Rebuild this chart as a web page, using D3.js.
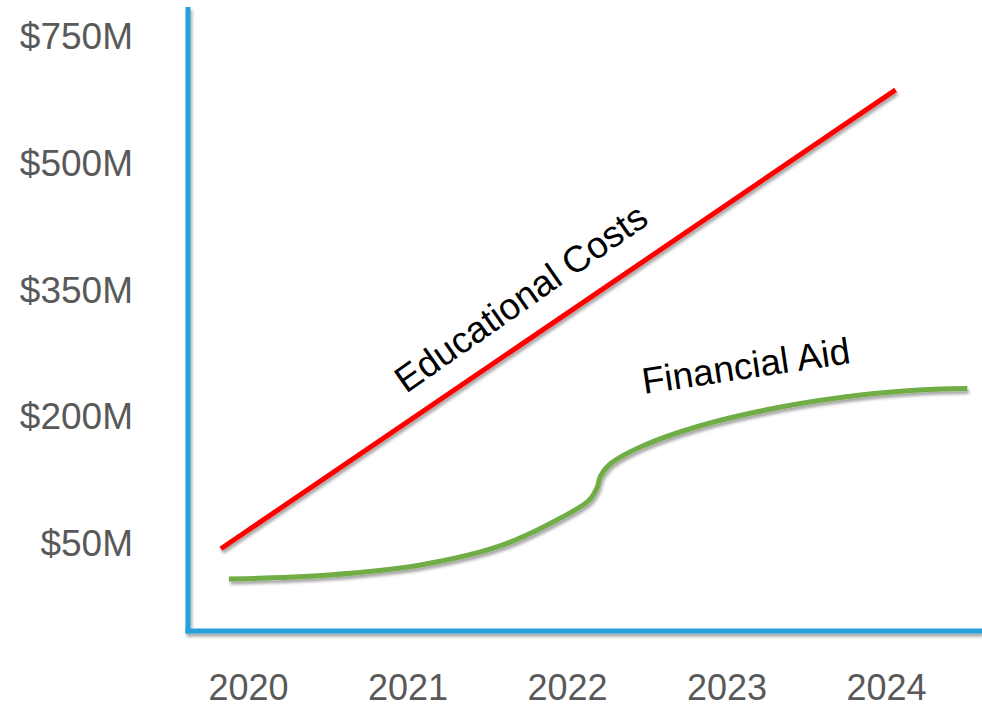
<!DOCTYPE html>
<html>
<head>
<meta charset="utf-8">
<script src="https://cdn.jsdelivr.net/npm/d3@7"></script>
<style>
  html, body { margin: 0; padding: 0; background: #fff; }
  svg { display: block; font-family: "Liberation Sans", Arial, sans-serif; }
</style>
</head>
<body>
<svg id="chart" width="982" height="708"></svg>
<script>
// ---- data ----
const years = [2020, 2021, 2022, 2023, 2024];
const yTickValues = [50, 200, 350, 500, 750];
const yTickLabels = ["$50M", "$200M", "$350M", "$500M", "$750M"];

// Educational Costs (straight line, $M)
const costYears  = [2019.83, 2024.06];
const costValues = [42, 642];

// Financial Aid ($M)
const aidYears  = [2019.88, 2020.51, 2021.08, 2021.58, 2021.96, 2022.14, 2022.19, 2022.21, 2022.27, 2022.46, 2022.83, 2023.34, 2023.84, 2024.21, 2024.51];
const aidValues = [6.3, 11.0, 22.8, 45.3, 78.3, 99.6, 115, 127.9, 142.1, 162.2, 187, 209.5, 223.8, 229.8, 231.5];

const seriesLabels = ["Educational Costs", "Financial Aid"];

// ---- layout ----
const svg = d3.select("#chart");
const W = 982, H = 708;
const axisColor = "#27a1dc";
const labelColor = "#595959";

const x = d3.scaleLinear().domain([2020, 2024]).range([248, 886]);
const y = d3.scaleLinear().domain(yTickValues).range([542, 415, 289, 162, 35]);

// drop shadow
const defs = svg.append("defs");
const f = defs.append("filter").attr("id", "shadow")
  .attr("x", "-10%").attr("y", "-10%").attr("width", "120%").attr("height", "130%");
f.append("feDropShadow").attr("dx", 1.5).attr("dy", 3).attr("stdDeviation", 1.8)
  .attr("flood-color", "#000").attr("flood-opacity", 0.35);

// axes lines
const axes = svg.append("g").attr("filter", "url(#shadow)");
axes.append("line")
  .attr("x1", 188).attr("x2", 188).attr("y1", 7).attr("y2", 633.5)
  .attr("stroke", axisColor).attr("stroke-width", 5);
axes.append("line")
  .attr("x1", 185.5).attr("x2", W).attr("y1", 631).attr("y2", 631)
  .attr("stroke", axisColor).attr("stroke-width", 5);

// y labels
const yAxis = d3.axisLeft(y).tickValues(yTickValues)
  .tickFormat((d, i) => yTickLabels[i]).tickSize(0).tickPadding(0);
const gy = svg.append("g").attr("transform", "translate(133,0)").call(yAxis);
gy.select(".domain").remove();
gy.selectAll("text").attr("font-size", 37).attr("fill", labelColor)
  .attr("dy", "0.36em").style("font-family", "'Liberation Sans', Arial, sans-serif");

// x labels
const xAxis = d3.axisBottom(x).tickValues(years).tickFormat(d3.format("d"))
  .tickSize(0).tickPadding(0);
const gx = svg.append("g").attr("transform", "translate(0,674)").call(xAxis);
gx.select(".domain").remove();
gx.selectAll("text").attr("font-size", 36).attr("fill", labelColor)
  .style("font-family", "'Liberation Sans', Arial, sans-serif");

// lines
const costData = costYears.map((d, i) => ({ x: d, v: costValues[i] }));
const aidData = aidYears.map((d, i) => ({ x: d, v: aidValues[i] }));

const straight = d3.line().x(d => x(d.x)).y(d => y(d.v));
const smooth = d3.line().x(d => x(d.x)).y(d => y(d.v)).curve(d3.curveCatmullRom.alpha(0.5));

svg.append("path").datum(costData)
  .attr("d", straight).attr("fill", "none")
  .attr("stroke", "#ff0000").attr("stroke-width", 5)
  .attr("filter", "url(#shadow)");

svg.append("path").datum(aidData)
  .attr("d", smooth).attr("fill", "none")
  .attr("stroke", "#70ad47").attr("stroke-width", 5)
  .attr("stroke-linejoin", "round")
  .attr("filter", "url(#shadow)");

// annotations
svg.append("text")
  .attr("transform", "translate(406,394) rotate(-35)")
  .attr("font-size", 37).attr("fill", "#000")
  .text(seriesLabels[0]);

svg.append("text")
  .attr("transform", "translate(644,394) rotate(-8.5)")
  .attr("font-size", 37).attr("fill", "#000")
  .text(seriesLabels[1]);
</script>
</body>
</html>
